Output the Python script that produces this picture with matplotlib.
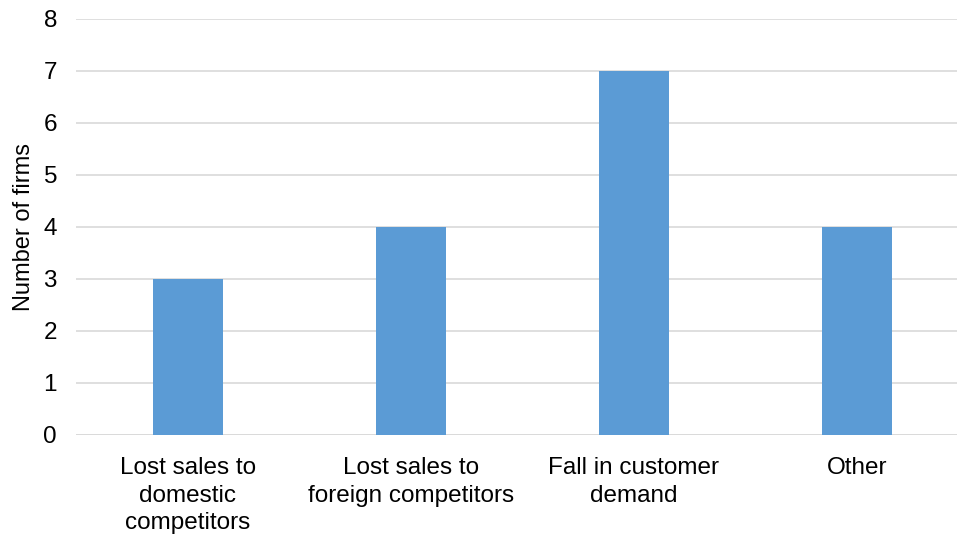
import matplotlib
matplotlib.use("Agg")
import matplotlib.pyplot as plt

categories = ["Lost sales to\ndomestic\ncompetitors",
              "Lost sales to\nforeign competitors",
              "Fall in customer\ndemand",
              "Other"]
firms = [3, 4, 7, 4]
y_ticks = [0, 1, 2, 3, 4, 5, 6, 7, 8]

plt.rcParams['font.family'] = ['Liberation Sans', 'DejaVu Sans']

fig = plt.figure(figsize=(9.57, 5.35), dpi=100)
ax = fig.add_axes([0.0799, 0.187, 0.932, 0.7776])

x = range(len(categories))
ax.bar(x, firms, width=0.314, color="#5B9BD5", zorder=3)

ax.set_xlim(-0.5, len(categories) - 0.5)
ax.set_ylim(0, 8)
ax.set_yticks(y_ticks)
ax.set_xticks(list(x))
ax.set_xticklabels(categories, fontsize=17.5, linespacing=1.33)
ax.tick_params(axis='y', labelsize=17.5, length=0, pad=14)
ax.tick_params(axis='x', length=0, pad=16)
ax.grid(axis='y', color="#D9D9D9", linewidth=1.2, zorder=0)
for s in ax.spines.values():
    s.set_visible(False)
ax.axhline(0, color="#D9D9D9", linewidth=1.2, zorder=1)
ax.set_ylabel("Number of firms", fontsize=17, labelpad=6)

fig.savefig("out.png", dpi=100)
